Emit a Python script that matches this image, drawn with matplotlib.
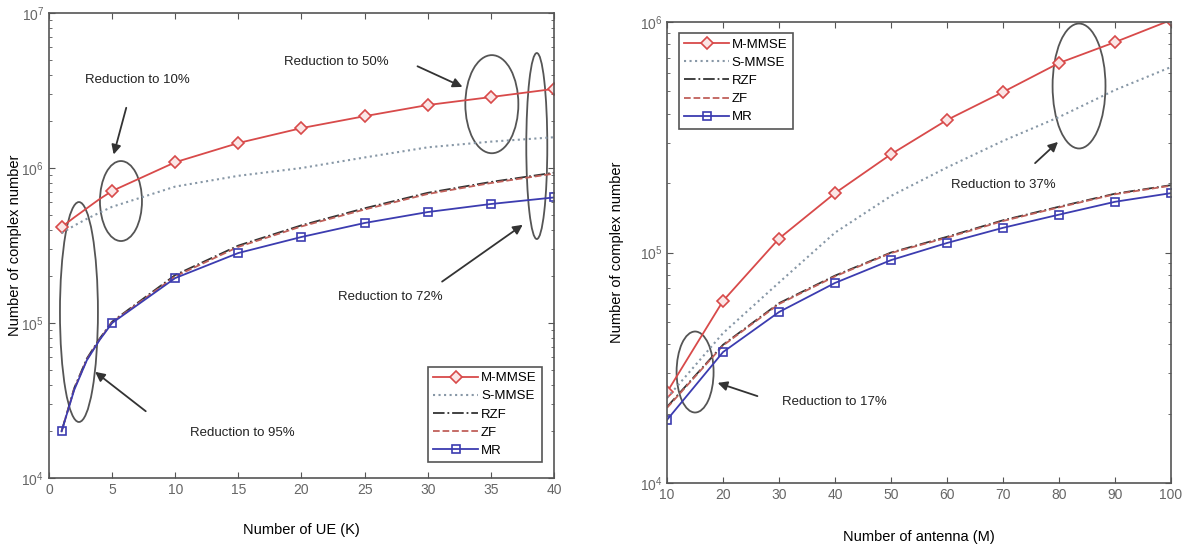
import matplotlib
matplotlib.use("Agg")
import matplotlib.pyplot as plt
from matplotlib.patches import Ellipse
from matplotlib.ticker import LogLocator, NullFormatter

plt.rcParams['font.family'] = ['Liberation Sans', 'DejaVu Sans']
plt.rcParams['mathtext.fontset'] = 'custom'
plt.rcParams['mathtext.rm'] = 'Liberation Sans'

# left panel: complexity vs number of UE
ue_k = [1, 2, 3, 4, 5, 10, 15, 20, 25, 30, 35, 40]
ue_mmmse = [4.16e5, 4.8e5, 5.5e5, 6.3e5, 7.11e5, 1.09e6, 1.45e6, 1.81e6, 2.16e6, 2.55e6, 2.87e6, 3.24e6]
ue_smmse = [3.8e5, 4.25e5, 4.7e5, 5.15e5, 5.62e5, 7.59e5, 8.91e5, 1.0e6, 1.17e6, 1.36e6, 1.48e6, 1.58e6]
ue_rzf = [2.0e4, 3.8e4, 5.9e4, 7.9e4, 1.02e5, 2.04e5, 3.16e5, 4.27e5, 5.5e5, 6.92e5, 8.13e5, 9.33e5]
ue_zf = [2.0e4, 3.75e4, 5.8e4, 7.8e4, 1.01e5, 2.0e5, 3.1e5, 4.2e5, 5.4e5, 6.8e5, 8.0e5, 9.2e5]
ue_mr = [2.0e4, 3.7e4, 5.75e4, 7.75e4, 1.0e5, 1.95e5, 2.83e5, 3.59e5, 4.42e5, 5.2e5, 5.86e5, 6.46e5]

# right panel: complexity vs number of antennas
ant_m = [10, 20, 30, 40, 50, 60, 70, 80, 90, 100]
ant_mmmse = [2.48e4, 6.17e4, 1.15e5, 1.81e5, 2.67e5, 3.76e5, 4.97e5, 6.64e5, 8.18e5, 1.02e6]
ant_smmse = [2.34e4, 4.47e4, 7.41e4, 1.22e5, 1.76e5, 2.34e5, 3.05e5, 3.87e5, 5.07e5, 6.38e5]
ant_rzf = [2.14e4, 3.98e4, 6.03e4, 7.94e4, 1.0e5, 1.17e5, 1.38e5, 1.58e5, 1.8e5, 1.96e5]
ant_zf = [2.12e4, 3.95e4, 5.98e4, 7.88e4, 9.95e4, 1.16e5, 1.37e5, 1.57e5, 1.79e5, 1.95e5]
ant_mr = [1.88e4, 3.7e4, 5.52e4, 7.38e4, 9.27e4, 1.1e5, 1.28e5, 1.46e5, 1.66e5, 1.81e5]

RED = '#d84a4a'
BLUE = '#3c3cb0'
GRAY = '#555555'


def draw_series(ax, x, mm, sm, rzf, zf, mr, every):
    ax.plot(x, mm, color=RED, lw=1.3, marker='D', ms=6.5, mfc='#fbe6e6',
            mec=RED, mew=1.2, markevery=every, label='M-MMSE')
    ax.plot(x, sm, color='#8797a6', lw=1.5, ls=':', label='S-MMSE')
    ax.plot(x, rzf, color='#333333', lw=1.3, ls='-.', label='RZF')
    ax.plot(x, zf, color='#c0605a', lw=1.3, ls='--', label='ZF')
    ax.plot(x, mr, color=BLUE, lw=1.3, marker='s', ms=5.5, mfc='none',
            mec=BLUE, mew=1.2, markevery=every, label='MR')


def style_axes(ax):
    ax.set_yscale('log')
    ax.yaxis.set_major_locator(LogLocator(base=10))
    ax.yaxis.set_minor_locator(LogLocator(base=10, subs=range(2, 10)))
    ax.yaxis.set_minor_formatter(NullFormatter())
    ax.tick_params(which='both', direction='in', top=True, right=True,
                   colors=GRAY, labelsize=10, labelcolor='#666666')
    ax.tick_params(which='major', length=4)
    ax.tick_params(which='minor', length=2)
    for s in ax.spines.values():
        s.set_color(GRAY)
        s.set_linewidth(1.2)


def note(ax, txt, xy_text, xy_arrow_start, xy_arrow_end):
    ax.text(*xy_text, txt, transform=ax.transAxes, fontsize=9.5,
            ha='left', va='center', color='#222222')
    ax.annotate('', xy=xy_arrow_end, xytext=xy_arrow_start,
                xycoords='axes fraction', textcoords='axes fraction',
                arrowprops=dict(arrowstyle='-|>', color='#333333', lw=1.3,
                                mutation_scale=14))


def ring(ax, c, w, h):
    ax.add_patch(Ellipse(c, w, h, transform=ax.transAxes, fill=False,
                         ec='#555555', lw=1.3, clip_on=False))


fig = plt.figure(figsize=(11.88, 5.48), dpi=100)
ax1 = fig.add_axes([0.0412, 0.1277, 0.4251, 0.8485])
ax2 = fig.add_axes([0.5615, 0.1186, 0.4242, 0.8412])

# left
draw_series(ax1, ue_k, ue_mmmse, ue_smmse, ue_rzf, ue_zf, ue_mr,
            [0, 4, 5, 6, 7, 8, 9, 10, 11])
style_axes(ax1)
ax1.set_xlim(0, 40)
ax1.set_ylim(1e4, 1e7)
ax1.set_xticks(range(0, 41, 5))
ax1.set_xlabel('Number of UE (K)', fontsize=10.5)
ax1.xaxis.set_label_coords(0.5, -0.097)
ax1.set_ylabel('Number of complex number', fontsize=10.5)
ax1.yaxis.set_label_coords(-0.053, 0.5)
leg = ax1.legend(loc='lower right', bbox_to_anchor=(0.976, 0.034),
                 borderaxespad=0, fontsize=9.5, handlelength=3.4,
                 handletextpad=0.2, labelspacing=0.45, fancybox=False,
                 edgecolor=GRAY, framealpha=1)
leg.get_frame().set_linewidth(1.2)

ring(ax1, (0.1426, 0.5957), 0.0832, 0.172)
ring(ax1, (0.0594, 0.357), 0.0752, 0.473)
ring(ax1, (0.877, 0.804), 0.105, 0.211)
ring(ax1, (0.966, 0.714), 0.0416, 0.40)
note(ax1, 'Reduction to 10%', (0.0713, 0.856), (0.1545, 0.802), (0.1267, 0.690))
note(ax1, 'Reduction to 95%', (0.279, 0.097), (0.196, 0.140), (0.0871, 0.232))
note(ax1, 'Reduction to 50%', (0.4653, 0.8946), (0.7248, 0.888), (0.8238, 0.8387))
note(ax1, 'Reduction to 72%', (0.5723, 0.389), (0.774, 0.419), (0.9426, 0.548))

# right
draw_series(ax2, ant_m, ant_mmmse, ant_smmse, ant_rzf, ant_zf, ant_mr, None)
style_axes(ax2)
ax2.set_xlim(10, 100)
ax2.set_ylim(1e4, 1e6)
ax2.set_xticks(range(10, 101, 10))
ax2.set_xlabel('Number of antenna (M)', fontsize=10.5)
ax2.xaxis.set_label_coords(0.5, -0.102)
ax2.set_ylabel('Number of complex number', fontsize=10.5)
ax2.yaxis.set_label_coords(-0.085, 0.5)
leg = ax2.legend(loc='upper left', bbox_to_anchor=(0.0238, 0.976),
                 borderaxespad=0, fontsize=9.5, handlelength=3.4,
                 handletextpad=0.2, labelspacing=0.45, fancybox=False,
                 edgecolor=GRAY, framealpha=1)
leg.get_frame().set_linewidth(1.2)

ring(ax2, (0.0556, 0.2408), 0.0734, 0.1757)
ring(ax2, (0.8175, 0.8612), 0.105, 0.271)
note(ax2, 'Reduction to 17%', (0.2282, 0.1757), (0.1845, 0.1866), (0.0952, 0.2191))
note(ax2, 'Reduction to 37%', (0.5635, 0.6464), (0.7262, 0.6898), (0.7798, 0.744))

fig.savefig('out.png', dpi=100)
